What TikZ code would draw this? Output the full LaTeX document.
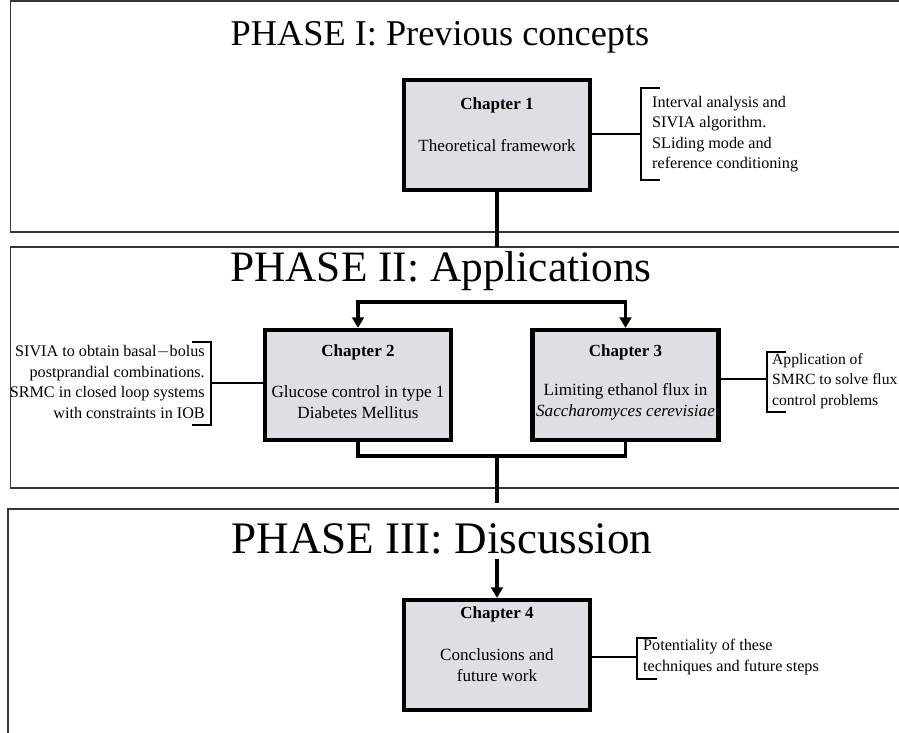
\documentclass[tikz,border=0pt]{standalone}
\usepackage{fontspec}
\setmainfont{Liberation Serif}
\usetikzlibrary{calc,arrows.meta}
\definecolor{boxgray}{RGB}{222,223,228}
\definecolor{framegray}{RGB}{55,55,55}

\begin{document}
\begin{tikzpicture}[x=0.03cm,y=-0.03cm,
    phase/.style={draw=framegray,line width=1.2pt},
    chapbox/.style={draw,fill=boxgray,line width=3.6pt,inner sep=0pt,%
      minimum width=5.58cm,minimum height=3.3cm},
    chaphead/.style={font=\fontsize{14.5}{17}\selectfont\bfseries},
    chaptext/.style={font=\fontsize{14.6}{17.5}\selectfont,align=center},
    note/.style={font=\fontsize{13.8}{17.4}\selectfont,inner sep=0pt},
    link/.style={line width=3.2pt},
    brace/.style={line width=1.6pt},
    tip/.style={-{Triangle[length=9pt,width=10pt]}}]
          \useasboundingbox (0,0) rectangle (899,733);
          % the three phases
          \draw[phase] (899,1) -- (10.5,1) -- (10.5,232) -- (899,232);
          \draw[phase] (899,247) -- (10.5,247) -- (10.5,488) -- (899,488);
          \draw[phase] (899,509) -- (8,509) -- (8,733);
          \node[font=\fontsize{31}{36}\selectfont] (t1) at (440,37) %
          {PHASE I: Previous concepts};
          \node[font=\fontsize{37}{42}\selectfont] (t2) at (441,271) %
          {PHASE II: Applications};
          \node[font=\fontsize{38.5}{44}\selectfont] (t3) at (442,539) %
          {PHASE III: Discussion};
          % chapters
          \draw node[chapbox] (ch1) at (497,135) {};
          \draw node[chaphead] (ch1h) at (497,105) {Chapter 1};
          \draw node[chaptext] (ch1t) at (497,146) {Theoretical framework};
          \draw node[chapbox] (ch2) at (358,385) {};
          \draw node[chaphead] (ch2h) at (358,352) {Chapter 2};
          \draw node[chaptext] (ch2t) at (358,402) %
          {Glucose control in type 1\\Diabetes Mellitus};
          \draw node[chapbox] (ch3) at (625.5,385) {};
          \draw node[chaphead] (ch3h) at (625.5,352) {Chapter 3};
          \draw node[chaptext] (ch3t) at (625.5,402) %
          {Limiting ethanol flux in\\\textit{Saccharomyces cerevisiae}};
          \draw node[chapbox] (ch4) at (497,655) {};
          \draw node[chaphead] (ch4h) at (497,614) {Chapter 4};
          \draw node[chaptext] (ch4t) at (497,665) %
          {Conclusions and\\future work};
          % links between chapters
          \coordinate (p1) at (497,247);
          \draw[link] (ch1.south) -- (p1);
          \coordinate (s2) at (358,302);
          \coordinate (s3) at (625.5,302);
          \draw[link,{Triangle[length=9pt,width=10pt]}-{Triangle[length=9pt,width=10pt]}] %
          (ch2.north) -- (s2) -- (s3) -- (ch3.north);
          \coordinate (j1) at (497,456);
          \draw[link] (ch2.south) |- (j1) -| (ch3.south);
          \coordinate (p2) at (497,503);
          \draw[link] (j1) -- (p2);
          \coordinate (p3) at (497,559);
          \draw[link,tip] (p3) -- (ch4.north);
          % notes
          \coordinate (b1) at (641,134);
          \draw[brace] (b1 -| ch1.east) -- (b1);
          \draw[brace] (660,88) -- (641,88) -- (641,180) -- (660,180);
          \draw node[note,anchor=west,align=left] (n1) at (652,134) %
          {Interval analysis and\\SIVIA algorithm.\\SLiding mode and\\reference conditioning};
          \coordinate (b2) at (211,383);
          \draw[brace] (b2) -- (b2 -| ch2.west);
          \draw[brace] (192,342) -- (211,342) -- (211,425) -- (192,425);
          \draw node[note,anchor=east,align=right] (n2) at (205,382) %
          {SIVIA to obtain basal$-$bolus\\postprandial combinations.\\%
            SRMC in closed loop systems\\with constraints in IOB};
          \coordinate (b3) at (767,379);
          \draw[brace] (b3 -| ch3.east) -- (b3);
          \draw[brace] (786,352) -- (767,352) -- (767,412) -- (786,412);
          \draw node[note,anchor=west,align=left,%
            font=\fontsize{13.3}{17.4}\selectfont] (n3) at (772,381) %
          {Application of\\SMRC to solve flux\\control problems};
          \coordinate (b4) at (637,657);
          \draw[brace] (b4 -| ch4.east) -- (b4);
          \draw[brace] (657,638) -- (637,638) -- (637,679) -- (657,679);
          \draw node[note,anchor=west,align=left] (n4) at (643,657) %
          {Potentiality of these\\techniques and future steps};
        \end{tikzpicture}
\end{document}
